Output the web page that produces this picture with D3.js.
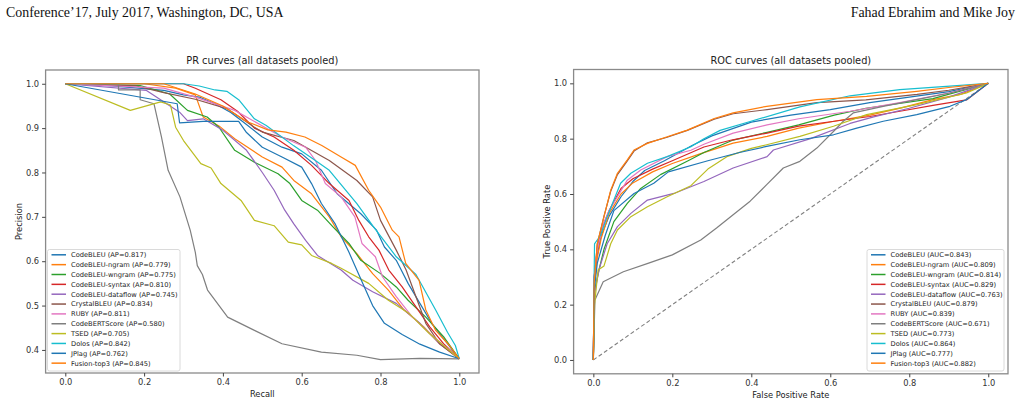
<!DOCTYPE html>
<html>
<head>
<meta charset="utf-8">
<script src="https://cdn.jsdelivr.net/npm/d3@7"></script>
<style>
  body { margin: 0; background: #fff; }
  text { font-family: "DejaVu Sans", sans-serif; fill: #222; }
</style>
</head>
<body>
<svg id="fig" width="1022" height="404"></svg>
<script>
// ---- data ----
const methods = ["CodeBLEU", "CodeBLEU-ngram", "CodeBLEU-wngram", "CodeBLEU-syntax",
  "CodeBLEU-dataflow", "CrystalBLEU", "RUBY", "CodeBERTScore", "TSED", "Dolos", "JPlag", "Fusion-top3"];
const prAP = [0.817, 0.779, 0.775, 0.810, 0.745, 0.834, 0.811, 0.580, 0.705, 0.842, 0.762, 0.845];
const rocAUC = [0.843, 0.809, 0.814, 0.829, 0.763, 0.879, 0.839, 0.671, 0.773, 0.864, 0.777, 0.882];
const rateTicks = [0, 0.2, 0.4, 0.6, 0.8, 1.0];
const precisionTicks = [0.4, 0.5, 0.6, 0.7, 0.8, 0.9, 1.0];

// PR curves: [recall, precision]
const prCodeBLEU = [[0,1],[0.12,0.995],[0.25,0.985],[0.30,0.975],[0.34,0.97],[0.38,0.955],[0.42,0.935],[0.45,0.915],[0.50,0.88],[0.55,0.857],[0.60,0.842],[0.65,0.805],[0.69,0.752],[0.75,0.707],[0.79,0.67],[0.81,0.632],[0.84,0.602],[0.87,0.55],[0.90,0.505],[0.93,0.46],[0.97,0.414],[1,0.38]];
const prNgram = [[0,1],[0.2,1.0],[0.28,0.99],[0.33,0.975],[0.35,0.925],[0.39,0.905],[0.43,0.876],[0.50,0.835],[0.55,0.812],[0.58,0.782],[0.625,0.752],[0.67,0.70],[0.70,0.655],[0.74,0.617],[0.78,0.572],[0.82,0.535],[0.86,0.49],[0.91,0.452],[0.95,0.414],[1,0.38]];
const prWngram = [[0,1],[0.19,0.996],[0.265,0.977],[0.31,0.94],[0.36,0.925],[0.39,0.902],[0.43,0.85],[0.48,0.823],[0.54,0.797],[0.57,0.775],[0.60,0.737],[0.64,0.715],[0.68,0.677],[0.72,0.64],[0.75,0.602],[0.80,0.572],[0.84,0.542],[0.87,0.512],[0.915,0.474],[0.96,0.43],[1,0.38]];
const prSyntax = [[0,1],[0.30,1.0],[0.33,0.99],[0.395,0.964],[0.437,0.938],[0.48,0.90],[0.53,0.88],[0.58,0.85],[0.625,0.816],[0.67,0.775],[0.72,0.737],[0.745,0.692],[0.77,0.655],[0.796,0.625],[0.821,0.58],[0.855,0.542],[0.89,0.497],[0.925,0.452],[0.96,0.414],[1,0.38]];
const prDataflow = [[0,1],[0.206,0.985],[0.29,0.936],[0.31,0.917],[0.35,0.921],[0.40,0.895],[0.46,0.85],[0.50,0.80],[0.53,0.76],[0.557,0.715],[0.58,0.684],[0.61,0.647],[0.64,0.613],[0.70,0.58],[0.73,0.557],[0.78,0.531],[0.84,0.505],[0.90,0.46],[0.95,0.414],[1,0.38]];
const prCrystal = [[0,1],[0.18,0.995],[0.25,0.98],[0.33,0.965],[0.41,0.944],[0.48,0.902],[0.50,0.891],[0.58,0.872],[0.67,0.827],[0.74,0.782],[0.78,0.745],[0.80,0.692],[0.84,0.625],[0.865,0.58],[0.89,0.52],[0.915,0.46],[0.95,0.414],[1,0.38]];
const prRuby = [[0,1],[0.25,0.99],[0.33,0.97],[0.43,0.94],[0.55,0.88],[0.61,0.857],[0.635,0.827],[0.66,0.775],[0.70,0.745],[0.735,0.70],[0.753,0.64],[0.787,0.61],[0.805,0.565],[0.84,0.52],[0.88,0.475],[0.925,0.437],[0.975,0.40],[1,0.38]];
const prBertScore = [[0,1],[0.135,1.0],[0.135,0.986],[0.19,0.986],[0.19,0.964],[0.225,0.955],[0.244,0.88],[0.261,0.805],[0.291,0.745],[0.317,0.67],[0.33,0.62],[0.335,0.59],[0.348,0.57],[0.361,0.535],[0.412,0.474],[0.48,0.444],[0.55,0.414],[0.65,0.395],[0.74,0.388],[0.80,0.378],[0.90,0.381],[1,0.38]];
const prTsed = [[0,1],[0.165,0.94],[0.242,0.959],[0.267,0.952],[0.28,0.902],[0.30,0.872],[0.344,0.82],[0.37,0.81],[0.395,0.775],[0.446,0.737],[0.48,0.692],[0.53,0.68],[0.566,0.643],[0.60,0.637],[0.625,0.613],[0.676,0.595],[0.70,0.584],[0.77,0.55],[0.82,0.512],[0.873,0.482],[0.924,0.437],[1,0.38]];
const prDolos = [[0,1],[0.30,1],[0.34,0.995],[0.38,0.986],[0.41,0.983],[0.44,0.964],[0.48,0.921],[0.51,0.906],[0.58,0.86],[0.63,0.83],[0.67,0.805],[0.74,0.73],[0.78,0.68],[0.84,0.61],[0.89,0.57],[0.94,0.49],[0.97,0.44],[0.99,0.41],[1,0.38]];
const prJPlag = [[0,1],[0.284,0.955],[0.29,0.912],[0.35,0.915],[0.44,0.915],[0.46,0.89],[0.50,0.857],[0.55,0.835],[0.60,0.812],[0.625,0.775],[0.65,0.73],[0.685,0.684],[0.72,0.62],[0.75,0.56],[0.78,0.50],[0.81,0.46],[0.855,0.435],[0.90,0.413],[0.95,0.395],[1,0.38]];
const prFusion = [[0,1],[0.25,1.0],[0.33,0.977],[0.40,0.95],[0.46,0.915],[0.514,0.896],[0.56,0.891],[0.608,0.88],[0.651,0.861],[0.70,0.835],[0.736,0.816],[0.77,0.76],[0.80,0.722],[0.83,0.67],[0.847,0.655],[0.864,0.595],[0.898,0.557],[0.915,0.49],[0.94,0.444],[0.975,0.41],[1,0.38]];

// ROC curves: [false positive rate, true positive rate]
const rocCodeBLEU = [[0,0],[0.002,0.3],[0.01,0.38],[0.02,0.45],[0.04,0.52],[0.07,0.59],[0.1,0.645],[0.13,0.685],[0.18,0.72],[0.25,0.775],[0.3,0.81],[0.4,0.86],[0.5,0.885],[0.6,0.905],[0.7,0.93],[0.8,0.95],[0.9,0.97],[1,1]];
const rocNgram = [[0,0],[0.002,0.27],[0.01,0.37],[0.02,0.44],[0.04,0.53],[0.07,0.60],[0.1,0.64],[0.15,0.68],[0.2,0.71],[0.27,0.745],[0.354,0.784],[0.44,0.808],[0.52,0.838],[0.61,0.863],[0.7,0.885],[0.78,0.911],[0.86,0.941],[0.93,0.96],[1,1]];
const rocWngram = [[0,0],[0.003,0.25],[0.015,0.33],[0.027,0.40],[0.052,0.50],[0.086,0.566],[0.12,0.62],[0.17,0.67],[0.24,0.72],[0.28,0.75],[0.354,0.795],[0.44,0.823],[0.52,0.85],[0.61,0.885],[0.69,0.91],[0.86,0.945],[1,1]];
const rocSyntax = [[0,0],[0.002,0.3],[0.01,0.4],[0.02,0.47],[0.04,0.54],[0.07,0.62],[0.1,0.655],[0.15,0.69],[0.2,0.72],[0.28,0.77],[0.35,0.795],[0.44,0.82],[0.52,0.845],[0.61,0.863],[0.7,0.88],[0.78,0.9],[0.86,0.92],[0.945,0.94],[1,1]];
const rocDataflow = [[0,0],[0.003,0.24],[0.015,0.33],[0.035,0.42],[0.061,0.482],[0.095,0.53],[0.137,0.578],[0.204,0.602],[0.28,0.645],[0.354,0.694],[0.44,0.735],[0.456,0.759],[0.55,0.8],[0.65,0.855],[0.71,0.879],[0.8,0.91],[0.9,0.95],[1,1]];
const rocCrystal = [[0,0],[0.002,0.28],[0.01,0.42],[0.027,0.52],[0.044,0.61],[0.061,0.67],[0.086,0.72],[0.103,0.755],[0.137,0.785],[0.187,0.805],[0.238,0.83],[0.306,0.87],[0.354,0.89],[0.44,0.905],[0.566,0.93],[0.69,0.94],[0.82,0.96],[0.9,0.975],[1,1]];
const rocRuby = [[0,0],[0.002,0.3],[0.01,0.40],[0.025,0.49],[0.04,0.54],[0.061,0.59],[0.086,0.65],[0.12,0.687],[0.187,0.735],[0.247,0.758],[0.28,0.78],[0.354,0.82],[0.44,0.85],[0.52,0.872],[0.65,0.899],[0.776,0.93],[0.9,0.965],[1,1]];
const rocBertScore = [[0,0],[0.004,0.217],[0.025,0.283],[0.076,0.319],[0.14,0.35],[0.2,0.38],[0.272,0.434],[0.312,0.477],[0.354,0.525],[0.397,0.574],[0.439,0.634],[0.481,0.694],[0.523,0.718],[0.566,0.766],[0.608,0.826],[0.633,0.863],[0.658,0.893],[0.734,0.917],[0.819,0.941],[0.903,0.965],[1,1]];
const rocTsed = [[0,0],[0.003,0.2],[0.012,0.325],[0.027,0.34],[0.044,0.42],[0.061,0.47],[0.095,0.518],[0.137,0.554],[0.187,0.59],[0.247,0.63],[0.29,0.69],[0.338,0.735],[0.4,0.765],[0.439,0.778],[0.523,0.808],[0.608,0.845],[0.692,0.887],[0.819,0.923],[0.945,0.965],[1,1]];
const rocDolos = [[0,0],[0.002,0.30],[0.003,0.42],[0.018,0.45],[0.035,0.518],[0.052,0.578],[0.069,0.639],[0.095,0.675],[0.137,0.711],[0.187,0.735],[0.247,0.771],[0.28,0.80],[0.321,0.83],[0.397,0.862],[0.523,0.915],[0.65,0.955],[0.776,0.977],[0.903,0.99],[1,1]];
const rocJPlag = [[0,0],[0.002,0.25],[0.01,0.35],[0.03,0.45],[0.052,0.54],[0.103,0.602],[0.153,0.639],[0.19,0.68],[0.29,0.72],[0.37,0.75],[0.439,0.772],[0.523,0.796],[0.608,0.814],[0.667,0.838],[0.734,0.863],[0.819,0.887],[0.903,0.917],[0.945,0.941],[1,1]];
const rocFusion = [[0,0],[0.002,0.277],[0.01,0.42],[0.027,0.518],[0.044,0.614],[0.061,0.675],[0.086,0.723],[0.103,0.759],[0.137,0.783],[0.187,0.807],[0.238,0.831],[0.306,0.873],[0.354,0.893],[0.439,0.917],[0.566,0.941],[0.692,0.953],[0.819,0.971],[0.9,0.985],[1,1]];
const chance = [[0,0],[1,1]];

const prCurves = [prCodeBLEU, prNgram, prWngram, prSyntax, prDataflow, prCrystal,
  prRuby, prBertScore, prTsed, prDolos, prJPlag, prFusion];
const rocCurves = [rocCodeBLEU, rocNgram, rocWngram, rocSyntax, rocDataflow, rocCrystal,
  rocRuby, rocBertScore, rocTsed, rocDolos, rocJPlag, rocFusion];

// matplotlib tab10 cycle
const palette = ["#1f77b4", "#ff7f0e", "#2ca02c", "#d62728", "#9467bd", "#8c564b",
  "#e377c2", "#7f7f7f", "#bcbd22", "#17becf"];

const svg = d3.select("#fig");
svg.append("rect").attr("width", 1022).attr("height", 404).attr("fill", "#fff");

// running header of the paper page
svg.append("text").attr("x", 6).attr("y", 17)
  .style("font-family", "'Liberation Serif', serif").style("font-size", "13.9px").style("fill", "#111")
  .text("Conference\u201917, July 2017, Washington, DC, USA");
svg.append("text").attr("x", 1015).attr("y", 17).attr("text-anchor", "end")
  .style("font-family", "'Liberation Serif', serif").style("font-size", "13.9px").style("fill", "#111")
  .text("Fahad Ebrahim and Mike Joy");

const fmt = d3.format(".1f");

function drawPanel(cfg) {
  const g = svg.append("g");
  const x = d3.scaleLinear().domain([-0.05, 1.05]).range([cfg.left, cfg.right]);
  const y = d3.scaleLinear().domain(cfg.yDomain).range([cfg.bottom, cfg.top]);

  const line = d3.line().x(d => x(d[0])).y(d => y(d[1]));

  if (cfg.diagonal) {
    g.append("path").datum(cfg.diagonal)
      .attr("d", line).attr("fill", "none")
      .attr("stroke", "#808080").attr("stroke-width", 1.1).attr("stroke-dasharray", "4,2.5");
  }

  g.selectAll("path.curve").data(cfg.curves).join("path")
    .attr("class", "curve")
    .attr("d", line)
    .attr("fill", "none")
    .attr("stroke", (d, i) => palette[i % palette.length])
    .attr("stroke-width", 1.2)
    .attr("stroke-linejoin", "round");

  // frame
  g.append("rect")
    .attr("x", cfg.left).attr("y", cfg.top)
    .attr("width", cfg.right - cfg.left).attr("height", cfg.bottom - cfg.top)
    .attr("fill", "none").attr("stroke", "#8a8a8a").attr("stroke-width", 1.3);

  const xa = g.append("g").attr("transform", "translate(0," + cfg.bottom + ")")
    .call(d3.axisBottom(x).tickValues(rateTicks).tickFormat(fmt).tickSize(3.5).tickPadding(3));
  const ya = g.append("g").attr("transform", "translate(" + cfg.left + ",0)")
    .call(d3.axisLeft(y).tickValues(cfg.yTicks).tickFormat(fmt).tickSize(3.5).tickPadding(3));
  [xa, ya].forEach(a => {
    a.select(".domain").remove();
    a.selectAll("line").attr("stroke", "#444");
    a.selectAll("text").style("font-size", "8.3px").style("fill", "#333")
      .style("font-family", "'DejaVu Sans', sans-serif");
  });

  const mid = (cfg.left + cfg.right) / 2;
  g.append("text").attr("x", mid).attr("y", cfg.top - 6).attr("text-anchor", "middle")
    .style("font-size", "9.8px").text(cfg.title);
  g.append("text").attr("x", mid).attr("y", cfg.bottom + 24).attr("text-anchor", "middle")
    .style("font-size", "8.3px").text(cfg.xLabel);
  g.append("text")
    .attr("transform", "translate(" + (cfg.left - 24) + "," + ((cfg.top + cfg.bottom) / 2) + ") rotate(-90)")
    .attr("text-anchor", "middle").style("font-size", "8.3px").text(cfg.yLabel);

  // legend
  const lg = g.append("g").attr("transform", "translate(" + cfg.legend.x + "," + cfg.legend.y + ")");
  lg.append("rect").attr("width", cfg.legend.w).attr("height", 121.5)
    .attr("rx", 2).attr("fill", "#fff").attr("fill-opacity", 0.85)
    .attr("stroke", "#d0d0d0").attr("stroke-width", 0.8);
  const rows = lg.selectAll("g.row").data(methods).join("g")
    .attr("class", "row")
    .attr("transform", (d, i) => "translate(0," + (5.3 + i * 9.85) + ")");
  rows.append("line").attr("x1", 4).attr("x2", 18.5)
    .attr("stroke", (d, i) => palette[i % palette.length]).attr("stroke-width", 1.5);
  rows.append("text").attr("x", 23.5).attr("y", 2.4)
    .style("font-size", "6.7px").style("fill", "#222")
    .text((d, i) => d + " (" + cfg.metric + "=" + cfg.scores[i].toFixed(3) + ")");
}

drawPanel({
  left: 45.6, right: 479, top: 70, bottom: 373,
  yDomain: [0.348, 1.031], yTicks: precisionTicks,
  curves: prCurves, title: "PR curves (all datasets pooled)",
  xLabel: "Recall", yLabel: "Precision",
  metric: "AP", scores: prAP,
  legend: { x: 47.5, y: 249.5, w: 132.5 }
});

drawPanel({
  left: 573.6, right: 1008, top: 69.5, bottom: 373.8,
  yDomain: [-0.05, 1.05], yTicks: rateTicks,
  curves: rocCurves, diagonal: chance, title: "ROC curves (all datasets pooled)",
  xLabel: "False Positive Rate", yLabel: "True Positive Rate",
  metric: "AUC", scores: rocAUC,
  legend: { x: 867, y: 249.5, w: 137 }
});
</script>
</body>
</html>
